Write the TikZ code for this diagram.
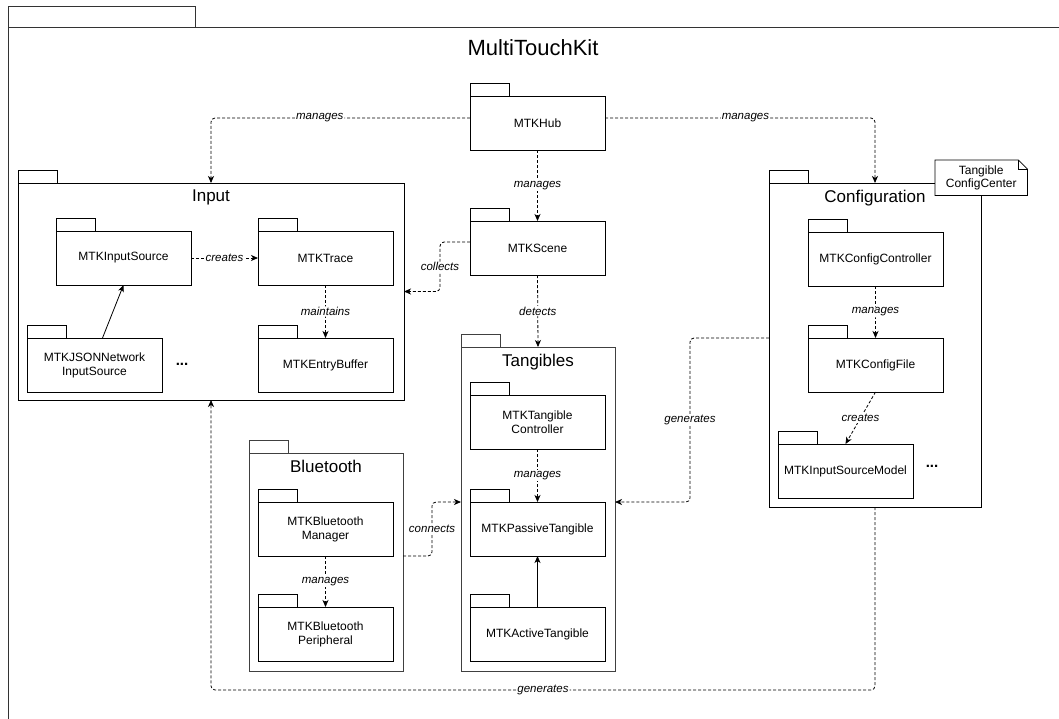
\documentclass[tikz,border=0pt]{standalone}
\usepackage{fontspec}
\setmainfont{Liberation Sans}
\usetikzlibrary{positioning,arrows.meta,calc}

\begin{document}
\begin{tikzpicture}[
    x=1pt,y=-1pt,
    tab/.style={draw,line width=0.8pt,inner sep=0pt,outer sep=0pt,minimum width=39pt,minimum height=13pt,anchor=south west},
    pkg/.style={draw=#1,line width=0.8pt,anchor=north west,inner sep=0pt,outer sep=0pt,label={[tab,draw=#1]north west:}},
    pkg/.default=black,
    cls/.style={pkg,fill=white,minimum width=135pt,minimum height=54pt,align=center,font=\fontsize{12}{14}\selectfont},
    pkgtitle/.style={anchor=north,inner sep=0pt,yshift=-7pt,font=\fontsize{17}{20}\selectfont},
    dep/.style={-{Stealth[length=7pt,width=6pt,inset=2pt]},dash pattern=on 3pt off 2pt,line width=0.8pt,rounded corners=4pt},
    use/.style={-{Stealth[length=7pt,width=6pt,inset=2pt]},line width=0.8pt},
    lbl/.style={fill=white,inner sep=1pt,font=\itshape\fontsize{11.5}{13}\selectfont},
    more/.style={font=\bfseries\fontsize{15}{16}\selectfont}
]
\useasboundingbox (0,0) rectangle (1059,718);

% Outer package
\draw[line width=1pt,black!80] (8,6) rectangle (195,27);
\draw[line width=1pt,black!80] (8,27) rectangle (1080,740);
\node[font=\fontsize{22}{26}\selectfont] (kit) at (533,48) {MultiTouchKit};

% Packages
\node[pkg,minimum width=386pt,minimum height=217pt,label={[pkgtitle]north:Input}] (input) at (18,183) {};
\node[pkg,minimum width=212pt,minimum height=324pt,label={[pkgtitle]north:Configuration}] (config) at (769,183) {};
\node[pkg=black!75,minimum width=154pt,minimum height=324pt,label={[pkgtitle]north:Tangibles}] (tang) at (461,347) {};
\node[pkg=black!75,minimum width=154pt,minimum height=218pt,label={[pkgtitle]north:Bluetooth}] (bt) at (249,453) {};

% Note
\node[fill=white,inner sep=2pt,minimum width=92pt,minimum height=35pt,align=center,anchor=north west,
      font=\fontsize{12}{13}\selectfont] (note) at (935,160) {Tangible\\ConfigCenter};
\draw[line width=0.8pt] (note.north west) -- ([xshift=-9pt]note.north east) -- ([yshift=-9pt]note.north east)
    -- (note.south east) -- (note.south west) -- cycle;
\draw[line width=0.8pt] ([xshift=-9pt]note.north east) |- ([yshift=-9pt]note.north east);

% Hub and scene
\node[cls] (hub) at (470,96) {MTKHub};
\node[cls] (scene) at (470,221) {MTKScene};

% Input
\node[cls] (insrc) at (56,231) {MTKInputSource};
\node[cls] (trace) at (258,231) {MTKTrace};
\node[cls] (json) at (27,338) {MTKJSONNetwork\\InputSource};
\node[cls] (ebuf) at (258,338) {MTKEntryBuffer};
\node[more] (dots1) at (182,364) {...};

% Configuration
\node[cls] (cctrl) at (808,232) {MTKConfigController};
\node[cls] (cfile) at (808,338) {MTKConfigFile};
\node[cls] (ismodel) at (778,444) {MTKInputSourceModel};
\node[more] (dots2) at (932,466) {...};

% Tangibles
\node[cls] (tctrl) at (470,395) {MTKTangible\\Controller};
\node[cls] (passive) at (470,502) {MTKPassiveTangible};
\node[cls] (active) at (470,607) {MTKActiveTangible};

% Bluetooth
\node[cls] (btman) at (258,502) {MTKBluetooth\\Manager};
\node[cls] (btper) at (258,607) {MTKBluetooth\\Peripheral};

% Dependencies
\draw[dep] ([yshift=5pt]hub.west) -| node[lbl,pos=0.29]{manages} (input.north);
\draw[dep] ([yshift=5pt]hub.east) -| node[lbl,pos=0.26]{manages} (config.north);
\draw[dep] (hub.south) -- node[lbl]{manages} (scene.north);
\draw[dep] (scene.south) -- node[lbl]{detects} (tang.north);
\draw[dep] ([yshift=6pt]scene.west) -- ++(-30,0) |- node[lbl,pos=0.25]{collects} (input.east);
\draw[dep] (btman.south -| bt.east) -- ++(29,0) |- node[lbl,pos=0.25]{connects} (passive.north -| tang.west);
\draw[dep] (cfile.north -| config.west) -- ++(-79,0) |- node[lbl,pos=0.25]{generates} (passive.north -| tang.east);
\draw[dep] (config.south) -- ++(0,183) -| node[lbl,pos=0.25]{generates} (input.south);

\draw[dep] (insrc.east) -- node[lbl]{creates} (trace.west);
\draw[dep] (trace.south) -- node[lbl]{maintains} (ebuf.north);
\draw[use] ([xshift=8pt]json.north) -- (insrc.south);
\draw[dep] (cctrl.south) -- node[lbl]{manages} (cfile.north);
\draw[dep] (cfile.south) -- node[lbl]{creates} (ismodel.north);
\draw[dep] (tctrl.south) -- node[lbl]{manages} (passive.north);
\draw[use] (active.north) -- (passive.south);
\draw[dep] (btman.south) -- node[lbl]{manages} (btper.north);
\end{tikzpicture}
\end{document}
